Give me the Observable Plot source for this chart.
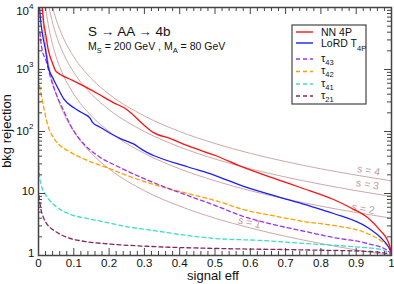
<!DOCTYPE html>
<html><head><meta charset="utf-8">
<script src="https://cdn.jsdelivr.net/npm/d3@7"></script>
<script src="https://cdn.jsdelivr.net/npm/@observablehq/plot@0.6"></script>
<style>body{margin:0;background:#fff}svg{display:block}</style>
</head><body><div id="chart"></div>
<script>
// ---- data ----
const nnEff  = [0.011,0.014,0.020,0.028,0.040,0.048,0.062,0.091,0.119,0.167,0.212,0.246,0.297,0.326,0.374,0.422,0.501,0.581,0.677,0.742,0.836,0.884,0.932,0.969,0.989,0.997,1.0];
const nnRej  = [10000,6170,3800,2030,1250,960,830,690,575,410,293,235,130,96,77,59,41,26.3,16.8,12.5,8.0,5.9,4.1,2.5,1.75,1.3,1.1];
const lordEff = [0.003,0.006,0.011,0.020,0.028,0.040,0.054,0.071,0.099,0.127,0.147,0.153,0.176,0.204,0.232,0.269,0.297,0.326,0.422,0.501,0.581,0.677,0.756,0.836,0.932,0.969,0.989,1.0];
const lordRej = [10000,6170,3800,2030,1070,745,512,340,243,195,162,140,116,93,77,63,49.5,41,27,19.5,13,8.9,6.6,4.76,2.83,1.95,1.45,1.12];
const t43Eff = [0.004,0.008,0.023,0.034,0.054,0.071,0.091,0.133,0.167,0.232,0.326,0.422,0.501,0.581,0.677,0.756,0.836,0.932,0.989,1.0];
const t43Rej = [4000,2450,1290,745,354,218,125,59,41,26,15,9.3,6.4,4.25,3.05,2.44,1.95,1.56,1.2,1.05];
const t42Eff = [0.003,0.011,0.025,0.042,0.062,0.082,0.139,0.195,0.246,0.326,0.422,0.501,0.581,0.677,0.756,0.836,0.932,0.969,0.992,1.0];
const t42Rej = [550,316,134,80,59,49.5,34,26,20,14,10,7.7,5.5,4.25,3.5,3.05,2.26,1.75,1.35,1.05];
const t41Eff = [0.001,0.003,0.008,0.020,0.040,0.062,0.091,0.139,0.195,0.246,0.326,0.422,0.501,0.629,0.756,0.884,0.969,1.0];
const t41Rej = [28,19.5,13.5,9.6,6.9,5.5,4.6,3.95,3.4,2.94,2.53,2.1,1.88,1.75,1.56,1.4,1.25,1.05];
const t21Eff = [0.001,0.006,0.014,0.025,0.048,0.082,0.133,0.204,0.317,0.501,0.756,0.941,1.0];
const t21Rej = [9.3,5.9,4.1,3.16,2.44,1.95,1.68,1.53,1.40,1.30,1.23,1.16,1.05];
// significance curves s = 1..4
const s1Eff = [0.01,0.015,0.02,0.03,0.04,0.05,0.07,0.1,0.15,0.2,0.3,0.4,0.5,0.6,0.7,0.8,0.9,1.0];
const s1Rej = [10000,4444,2500,1111,625,400,204,100,44.4,25,11.1,6.25,4,2.78,2.04,1.56,1.23,1];
const s2Eff = [0.02,0.03,0.04,0.05,0.07,0.1,0.15,0.2,0.3,0.4,0.5,0.6,0.7,0.8,0.9,1.0];
const s2Rej = [10000,4444,2500,1600,816,400,178,100,44.4,25,16,11.1,8.16,6.25,4.94,4];
const s3Eff = [0.03,0.04,0.05,0.07,0.1,0.15,0.2,0.3,0.4,0.5,0.6,0.7,0.8,0.9,1.0];
const s3Rej = [10000,5625,3600,1837,900,400,225,100,56.3,36,25,18.4,14.1,11.1,9];
const s4Eff = [0.04,0.05,0.07,0.1,0.15,0.2,0.3,0.4,0.5,0.6,0.7,0.8,0.9,1.0];
const s4Rej = [10000,6400,3265,1600,711,400,178,100,64,44.4,32.7,25,19.8,16];
const sLabels = ["s = 1","s = 2","s = 3","s = 4"];
const sLabelEff = [0.598,0.92,0.932,0.935];
const sLabelRej = [3.4,5.7,14,23.5];
const xTicks = [0,0.1,0.2,0.3,0.4,0.5,0.6,0.7,0.8,0.9,1];
const xTickLabels = ["0","0.1","0.2","0.3","0.4","0.5","0.6","0.7","0.8","0.9","1"];
const yTicks = [1,10,100,1000,10000];
const yTickBase = ["1","10","10","10","10"];
const yTickExp = ["","","2","3","4"];
const legendLabels = ["NN 4P","LoRD T","τ","τ","τ","τ"];
const legendSubs = ["","4P","43","42","41","21"];

// ---- build ----
const zip = (xs, ys) => xs.map((x, i) => ({x, y: ys[i]}));
const xMinor = d3.range(0, 1.0001, 0.02).filter(v => Math.abs(v*10 - Math.round(v*10)) > 1e-6);
const yMinor = [];
for (const k of [1,10,100,1000]) for (let m = 2; m <= 9; m++) yMinor.push(m*k);
const yLab = yTicks.map((v, i) => ({v, base: yTickBase[i], exp: yTickExp[i]}));
const yPlain = yLab.filter(d => !d.exp);
const yPowMid = yLab.filter(d => d.exp && d.v < 10000);
const yPowTop = yLab.filter(d => d.v === 10000);

const W = 394, H = 284, mL = 38, mR = 3, mT = 7, mB = 29;
const FH = H - mT - mB;
const FW = W - mL - mR;
const axisCol = "#444";
const brown = "#cda9a7";
const font = "Liberation Sans, Arial, Helvetica, sans-serif";

const lineOpts = (stroke, dash) => ({x: "x", y: "y", stroke, strokeWidth: 1.3, curve: "monotone-x", strokeDasharray: dash, clip: true});
const brownOpts = {x: "x", y: "y", stroke: brown, strokeWidth: 1, curve: "monotone-x", clip: true};
const tl = {fontSize: 11.5, fill: "#111", frameAnchor: "left"};

const chart = Plot.plot({
  width: W, height: H,
  marginLeft: mL, marginRight: mR, marginTop: mT, marginBottom: mB,
  x: {domain: [0, 1], axis: null},
  y: {type: "log", domain: [1, 10000], axis: null},
  style: {fontFamily: font, background: "#fff"},
  marks: [
    Plot.line(zip(s1Eff, s1Rej), brownOpts),
    Plot.line(zip(s2Eff, s2Rej), brownOpts),
    Plot.line(zip(s3Eff, s3Rej), brownOpts),
    Plot.line(zip(s4Eff, s4Rej), brownOpts),
    Plot.text(sLabels, {x: (d,i) => sLabelEff[i], y: (d,i) => sLabelRej[i], text: d => d, fill: "#c49c9c", fontSize: 10.5, rotate: (d,i) => [13,10,9,9][i]}),
    Plot.line(zip(t21Eff, t21Rej), lineOpts("#862566", "4,3")),
    Plot.line(zip(t41Eff, t41Rej), lineOpts("#40dccc", "4,3")),
    Plot.line(zip(t42Eff, t42Rej), lineOpts("#ffa000", "4,3")),
    Plot.line(zip(t43Eff, t43Rej), lineOpts("#a030f0", "4,3")),
    Plot.line(zip(lordEff, lordRej), lineOpts("#1c1cff")),
    Plot.line(zip(nnEff, nnRej), lineOpts("#ff1010")),
    // ticks (inward, all four sides)
    Plot.tickX(xTicks, {x: d => d, insetTop: FH - 7, stroke: axisCol}),
    Plot.tickX(xTicks, {x: d => d, insetBottom: FH - 7, stroke: axisCol}),
    Plot.tickX(xMinor, {x: d => d, insetTop: FH - 4, stroke: axisCol}),
    Plot.tickX(xMinor, {x: d => d, insetBottom: FH - 4, stroke: axisCol}),
    Plot.tickY(yTicks, {y: d => d, insetRight: FW - 7, stroke: axisCol}),
    Plot.tickY(yTicks, {y: d => d, insetLeft: FW - 7, stroke: axisCol}),
    Plot.tickY(yMinor, {y: d => d, insetRight: FW - 4, stroke: axisCol}),
    Plot.tickY(yMinor, {y: d => d, insetLeft: FW - 4, stroke: axisCol}),
    Plot.frame({stroke: axisCol, strokeWidth: 1.5}),
    // tick labels
    Plot.text(xTicks, {x: d => d, frameAnchor: "bottom", lineAnchor: "top", dy: 3, text: (d,i) => xTickLabels[i], fontSize: 11.5, fill: "#111"}),
    Plot.text(yPlain, {...tl, y: "v", text: "base", textAnchor: "end", dx: -4, dy: -2}),
    Plot.text(yPowMid, {...tl, y: "v", text: "base", textAnchor: "end", dx: -9.5}),
    Plot.text(yPowMid, {...tl, y: "v", text: "exp", textAnchor: "start", dx: -9.5, dy: -5, fontSize: 8}),
    Plot.text(yPowTop, {...tl, y: "v", text: "base", textAnchor: "end", dx: -9.5, dy: 4}),
    Plot.text(yPowTop, {...tl, y: "v", text: "exp", textAnchor: "start", dx: -9.5, dy: -1.5, fontSize: 8})
  ]
});
document.getElementById("chart").appendChild(chart);

// ---- annotations, axis titles, legend ----
const svg = d3.select(chart);
const txt = (x, y, size) => svg.append("text").attr("x", x).attr("y", y).attr("font-size", size)
  .attr("font-family", font).attr("fill", "#111").attr("text-anchor", "start");

txt(213, 280, 13).attr("text-anchor", "middle").text("signal eff");
txt(0, 0, 13).attr("text-anchor", "middle").attr("transform", "translate(11,131) rotate(-90)").text("bkg rejection");

txt(88, 36, 13.5).text("S → AA → 4b");
const sub = txt(88, 50, 10.5);
sub.append("tspan").text("M");
sub.append("tspan").attr("font-size", 7.5).attr("dy", 3).text("S");
sub.append("tspan").attr("dy", -3).text(" = 200 GeV , M");
sub.append("tspan").attr("font-size", 7.5).attr("dy", 3).text("A");
sub.append("tspan").attr("dy", -3).text(" = 80 GeV");

svg.append("rect").attr("x", 292).attr("y", 25).attr("width", 74).attr("height", 79)
  .attr("fill", "#fff").attr("stroke", "#444").attr("stroke-width", 1.2);
const legColors = ["#ff1010","#1c1cff","#a030f0","#ffa000","#40dccc","#862566"];
const legY = [32, 43, 59, 71.5, 84, 96];
legendLabels.forEach((lab, i) => {
  svg.append("line").attr("x1", 296).attr("x2", 313).attr("y1", legY[i]).attr("y2", legY[i])
    .attr("stroke", legColors[i]).attr("stroke-width", 1.4).attr("stroke-dasharray", i >= 2 ? "4,3" : null);
  const isTau = i >= 2;
  const t = txt(321, legY[i] + (isTau ? 2.5 : 4), isTau ? 11 : 10.5);
  t.append("tspan").text(lab);
  if (legendSubs[i]) t.append("tspan").attr("font-size", 7.5).attr("dy", isTau ? 3 : 3.5).text(legendSubs[i]);
});
</script>
</body></html>
